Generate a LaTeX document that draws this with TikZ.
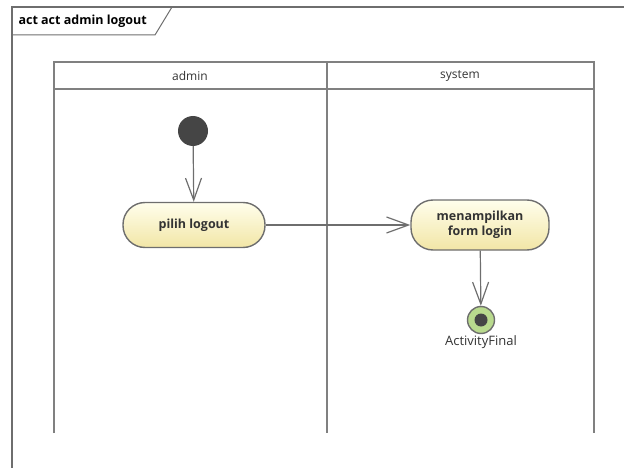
\documentclass[tikz,border=0pt]{standalone}
\usepackage{fontspec}
\setmainfont{Open Sans}
\usetikzlibrary{arrows.meta,positioning}
\definecolor{Ink}{HTML}{333333}
\definecolor{Frame}{HTML}{6E6E6E}
\definecolor{Lane}{HTML}{808080}
\definecolor{ActTop}{HTML}{FFFEEC}
\definecolor{ActBot}{HTML}{F2E6A6}
\definecolor{Dot}{HTML}{454545}
\definecolor{FinalFill}{HTML}{B9DA8E}

\begin{document}
\begin{tikzpicture}[x=1pt,y=-1pt,
  lane/.style={draw=Lane,line width=2pt},
  lanetitle/.style={font=\fontsize{12}{14}\selectfont,text=Ink},
  action/.style={rectangle,rounded corners=22pt,draw=Frame,line width=1.4pt,
    top color=ActTop,bottom color=ActBot,align=center,
    font=\fontsize{12.5}{15.5}\selectfont\bfseries,text=Ink,inner sep=2pt},
  flow/.style={-{Straight Barb[length=22pt,width=16pt]},draw=Frame,line width=1.2pt}]
\useasboundingbox (0,0) rectangle (624,468);
% diagram frame
\draw[Frame,line width=1.2pt] (624,7) -- (12,7) -- (12,468);
\draw[Frame,line width=1pt] (12,35) -- (155,35) -- (172,7);
\node[anchor=west,font=\fontsize{12.5}{15}\selectfont\bfseries,text=black] (title) at (15,21) {act act admin logout};
% swimlanes
\draw[lane] (54,433) -- (54,62) -- (594,62) -- (594,433);
\draw[lane] (54,89) -- (594,89);
\draw[lane] (327,62) -- (327,433);
\node[lanetitle] (admin) at (190,76) {admin};
\node[lanetitle] (system) at (460,76) {system};
% nodes
\node[circle,fill=Dot,minimum size=30pt,inner sep=0pt] (start) at (193,131) {};
\node[action,minimum width=142pt,minimum height=45pt] (pilih) at (194,225) {pilih logout};
\node[action,minimum width=138pt,minimum height=50pt] (tampil) at (480,225) {menampilkan\\form login};
\node[circle,fill=FinalFill,draw=Frame,line width=1.4pt,minimum size=27pt,inner sep=0pt,
  label={[font=\fontsize{13}{15}\selectfont,text=Ink,yshift=2pt]below:ActivityFinal}] (final) at (481,320) {};
\fill[Dot] (final.center) circle (6.5);
% flows
\draw[flow] (start) -- (pilih);
\draw[flow] (pilih) -- (tampil);
\draw[flow] (tampil) -- (final);
\end{tikzpicture}
\end{document}
